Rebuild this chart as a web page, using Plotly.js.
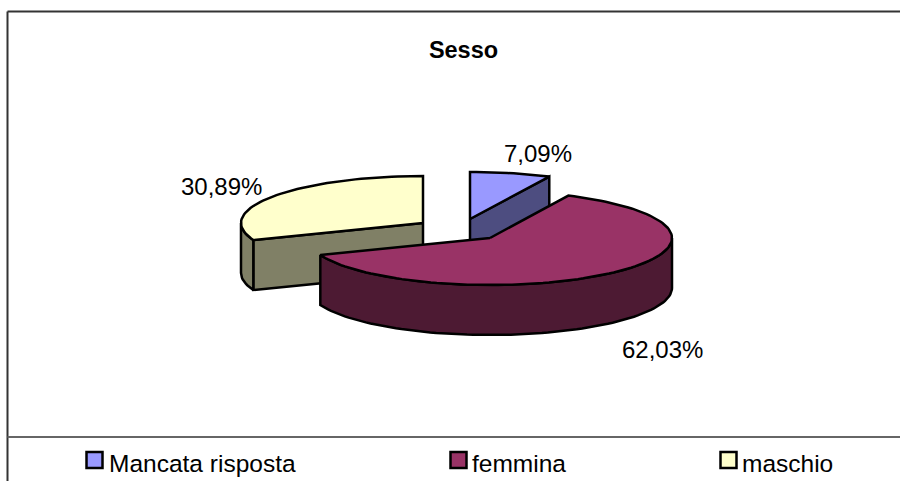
<!DOCTYPE html>
<html><head><meta charset="utf-8">
<script src="https://cdn.plot.ly/plotly-3.0.1.min.js"></script>
<style>html,body{margin:0;padding:0;background:#fff}#c{width:900px;height:481px}</style>
</head><body><div id="c"></div>
<script>
const categories = ['Mancata risposta', 'femmina', 'maschio'];
const values = [7.09, 62.03, 30.89];
const topColors = ['#9999FF', '#993366', '#FFFFCC'];
const sideColors = ['#4D4D80', '#4D1A33', '#808066'];
// Exploded pie centres and radii on a pixel-like axis
const centerX = [470, 490, 423];
const centerY = [219, 238, 223];
const radiusX = [184, 182, 182];
const radiusY = 47;
const depth = 50;
const labelX = [538, 662, 221];
const labelY = [153, 349, 186];
const legendX = [94.5, 458.5, 728.5];
const legendTextX = [109, 472, 741.5];
const legendY = 460;

const total = values.reduce((a, b) => a + b, 0);
const rad = d => d * Math.PI / 180;
let cum = 0;
const spans = values.map(v => { const s = cum / total * 360; cum += v; return [s, cum / total * 360]; });
const pt = (i, t, dz) => [centerX[i] + radiusX[i] * Math.sin(rad(t)), centerY[i] - radiusY * Math.cos(rad(t)) + (dz || 0)];
function arc(i, a, b, dz) { const out = []; const n = Math.max(2, Math.ceil(Math.abs(b - a) / 2)); for (let k = 0; k <= n; k++) out.push(pt(i, a + (b - a) * k / n, dz)); return out; }
function poly(points, fill, name) {
  const p = points.concat([points[0]]);
  return {type:'scatter', mode:'lines', x:p.map(q=>q[0]), y:p.map(q=>q[1]), fill:'toself', fillcolor:fill,
    line:{color:'#000', width:2.5, shape:'linear'}, hoverinfo:'skip', showlegend:false, name:name};
}
function slice(i) {
  const [s, e] = spans[i]; const out = [];
  const apex = [centerX[i], centerY[i]]; const apexB = [centerX[i], centerY[i] + depth];
  if (i === 0) { const c = pt(i, e); const d = pt(i, e, depth); out.push(poly([apex, c, d, apexB], sideColors[i], categories[i])); }
  if (i === 2) { const c = pt(i, s); const d = pt(i, s, depth); out.push(poly([apex, c, d, apexB], sideColors[i], categories[i])); }
  const a = Math.max(s, 90), b = Math.min(e, 270);
  if (b > a) out.push(poly(arc(i, a, b, 0).concat(arc(i, b, a, depth)), sideColors[i], categories[i]));
  out.push(poly([apex].concat(arc(i, s, e, 0)), topColors[i], categories[i]));
  return out;
}
const traces = [].concat(slice(0), slice(2), slice(1));
traces.push({type:'scatter', mode:'markers', x:legendX, y:categories.map(()=>legendY),
  marker:{symbol:'square', size:16, color:topColors, line:{color:'#000', width:2.5}}, hoverinfo:'skip', showlegend:false});

const family = '"Liberation Sans", Arial, sans-serif';
const font = {family:family, size:24, color:'#000'};
const legendFont = {family:family, size:24.5, color:'#000'};
const annotations = [];
values.forEach((v, i) => annotations.push({x:labelX[i], y:labelY[i], xref:'x', yref:'y', text:v.toFixed(2).replace('.', ',') + '%', showarrow:false, font:font, xanchor:'center', yanchor:'middle'}));
categories.forEach((c, i) => annotations.push({x:legendTextX[i], y:legendY + 3, xref:'x', yref:'y', text:c, showarrow:false, font:legendFont, xanchor:'left', yanchor:'middle', xshift:-2}));

const layout = {
  width:900, height:481, margin:{l:0,r:0,t:0,b:0}, paper_bgcolor:'#fff', plot_bgcolor:'#fff', showlegend:false,
  title:{text:'<b>Sesso</b>', font:{family:family, size:23.5, color:'#000'}, x:463.5/900, xanchor:'center', y:1-50/481, yanchor:'middle'},
  xaxis:{range:[0,900], visible:false, fixedrange:true},
  yaxis:{range:[481,0], visible:false, fixedrange:true},
  shapes:[
    {type:'line', xref:'x', yref:'y', x0:7.5, x1:7.5, y0:11.5, y1:481, line:{color:'#333', width:2}},
    {type:'line', xref:'x', yref:'y', x0:7.5, x1:900, y0:11.5, y1:11.5, line:{color:'#333', width:2}},
    {type:'line', xref:'x', yref:'y', x0:7.5, x1:900, y0:437, y1:437, line:{color:'#666', width:2}}
  ],
  annotations:annotations
};
Plotly.newPlot('c', traces, layout, {displayModeBar:false, staticPlot:true});
</script></body></html>
